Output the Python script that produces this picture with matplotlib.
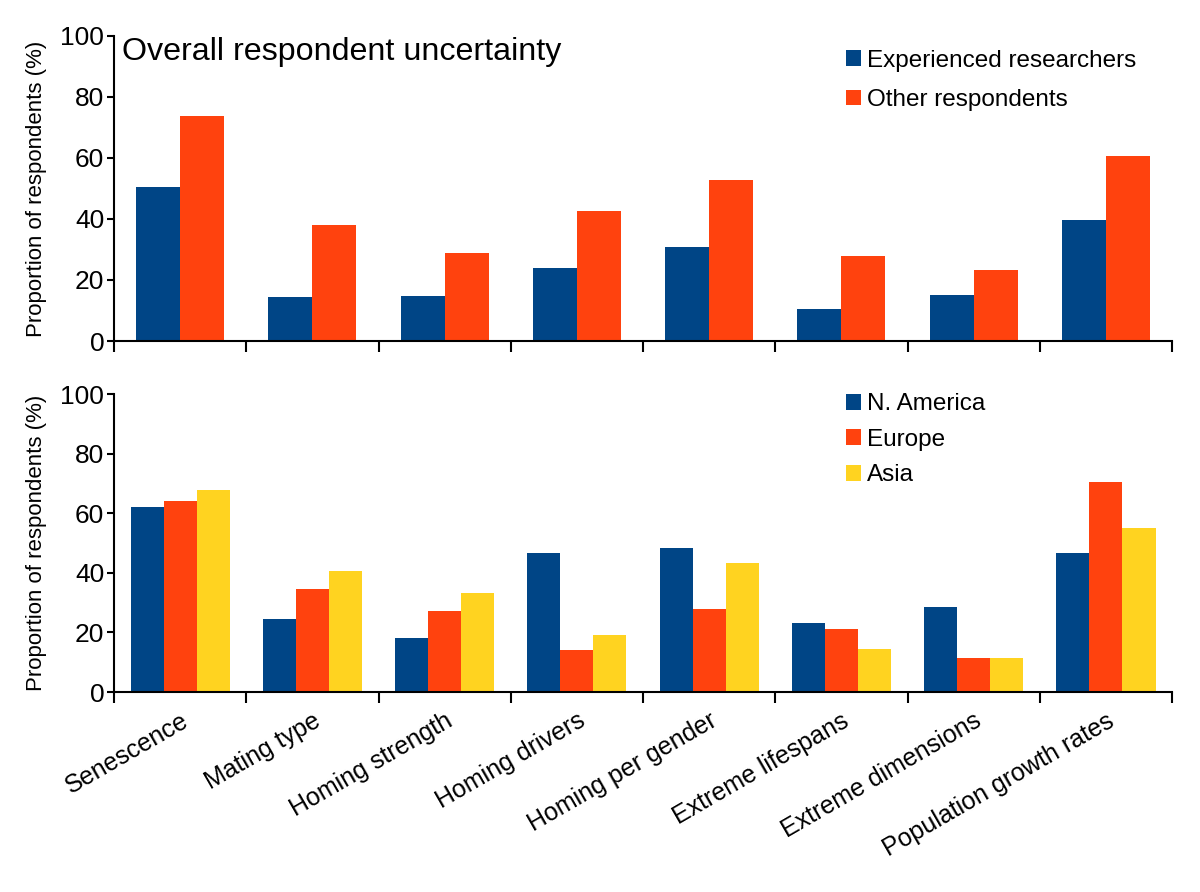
import matplotlib
matplotlib.use('Agg')
import matplotlib.pyplot as plt
import numpy as np

plt.rcParams['font.family'] = ['Liberation Sans', 'DejaVu Sans']

categorias = ['Senescence', 'Mating type', 'Homing strength', 'Homing drivers',
              'Homing per gender', 'Extreme lifespans', 'Extreme dimensions',
              'Population growth rates']

# Painel superior
experientes = [50.5, 14.5, 14.6, 23.8, 30.8, 10.5, 15.0, 39.8]
outros = [73.7, 38.1, 28.9, 42.7, 52.7, 28.0, 23.4, 60.8]

# Painel inferior
n_america = [62.1, 24.4, 18.2, 46.7, 48.4, 23.2, 28.4, 46.7]
europa = [64.0, 34.6, 27.2, 14.2, 27.9, 21.2, 11.5, 70.5]
asia = [67.7, 40.7, 33.4, 19.3, 43.2, 14.3, 11.4, 54.9]

AZUL = '#004586'
LARANJA = '#ff420e'
AMARELO = '#ffd320'


def estilo_eixo(ax, n):
    ax.set_xlim(-0.5, n - 0.5)
    ax.set_ylim(0, 100)
    ax.set_yticks(np.arange(0, 101, 20))
    ax.spines['top'].set_visible(False)
    ax.spines['right'].set_visible(False)
    ax.spines['left'].set_linewidth(1.5)
    ax.spines['bottom'].set_linewidth(1.5)
    ax.set_xticks(np.arange(n))
    ax.set_xticks(np.arange(n + 1) - 0.5, minor=True)
    ax.tick_params(axis='x', which='major', length=0)
    ax.tick_params(axis='x', which='minor', length=8, width=1.5, direction='out')
    ax.tick_params(axis='y', length=5, width=1.5, labelsize=19, pad=2)
    ax.set_ylabel('Proportion of respondents (%)', fontsize=16, labelpad=10)


def legenda(ax, y_topo, espaco):
    ax.legend(loc='upper left', bbox_to_anchor=(0.692, y_topo), frameon=False,
              fontsize=17.5, handlelength=0.62, handleheight=0.62,
              handletextpad=0.25, labelspacing=espaco, borderaxespad=0,
              borderpad=0)


fig = plt.figure(figsize=(12, 8.92), dpi=100)
ax1 = fig.add_axes([0.095, 0.6177, 0.8817, 0.342])
ax2 = fig.add_axes([0.095, 0.2242, 0.8817, 0.334])

x = np.arange(len(categorias))

# Superior: duas séries
w1 = 1 / 3
ax1.bar(x - w1 / 2, experientes, w1, color=AZUL, label='Experienced researchers')
ax1.bar(x + w1 / 2, outros, w1, color=LARANJA, label='Other respondents')
estilo_eixo(ax1, len(categorias))
ax1.set_xticklabels([])
ax1.text(0.008, 0.995, 'Overall respondent uncertainty', transform=ax1.transAxes,
         fontsize=23.2, va='top', ha='left')
legenda(ax1, 0.955, 0.72)

# Inferior: três séries
w2 = 0.25
ax2.bar(x - w2, n_america, w2, color=AZUL, label='N. America')
ax2.bar(x, europa, w2, color=LARANJA, label='Europe')
ax2.bar(x + w2, asia, w2, color=AMARELO, label='Asia')
estilo_eixo(ax2, len(categorias))
ax2.set_xticklabels(categorias, rotation=30, ha='right', va='top',
                    rotation_mode='anchor', fontsize=18)
ax2.tick_params(axis='x', which='major', pad=12)
legenda(ax2, 1.003, 0.56)

fig.savefig('out.png', dpi=100)
